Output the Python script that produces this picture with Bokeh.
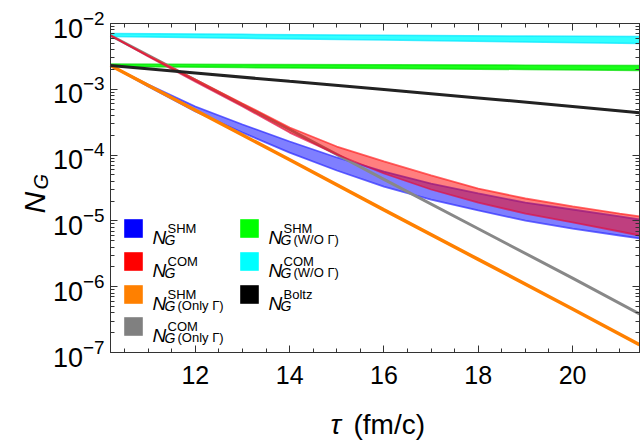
import math
from bokeh.plotting import figure
from bokeh.models import (LogAxis, LinearAxis, SingleIntervalTicker, LogTicker,
                          Label, BoxAnnotation, Range1d, CustomJSTickFormatter)
from bokeh.embed import file_html
from bokeh.resources import INLINE

# ---------------- data ----------------
tau_band = [10.2, 11.0, 12.0, 13.0, 14.0, 15.0, 16.0, 17.0, 18.0, 19.0, 20.0, 21.0, 21.42]
shm_hi = [2.30e-3, 1.18e-3, 5.48e-4, 2.92e-4, 1.61e-4, 9.20e-5, 5.63e-5, 3.70e-5, 2.61e-5, 1.90e-5, 1.49e-5, 1.17e-5, 1.05e-5]
shm_lo = [2.30e-3, 1.10e-3, 4.60e-4, 2.20e-4, 1.09e-4, 5.83e-5, 3.33e-5, 2.11e-5, 1.44e-5, 1.01e-5, 7.66e-6, 6.00e-6, 5.41e-6]
com_hi = [6.57e-3, 3.26e-3, 1.41e-3, 6.08e-4, 2.63e-4, 1.35e-4, 8.00e-5, 4.90e-5, 3.10e-5, 2.19e-5, 1.66e-5, 1.29e-5, 1.17e-5]
com_lo = [6.57e-3, 3.15e-3, 1.31e-3, 5.48e-4, 2.20e-4, 1.02e-4, 5.25e-5, 3.00e-5, 1.90e-5, 1.29e-5, 9.46e-6, 6.90e-6, 6.00e-6]

tau_flat = [10.2, 13.0, 16.0, 19.0, 21.42]
comwo_hi = [7.05e-3, 6.85e-3, 6.64e-3, 6.46e-3, 6.34e-3]
comwo_lo = [6.34e-3, 5.96e-3, 5.60e-3, 5.25e-3, 4.97e-3]
shmwo_hi = [2.42e-3, 2.39e-3, 2.37e-3, 2.33e-3, 2.30e-3]
shmwo_lo = [2.22e-3, 2.14e-3, 2.07e-3, 2.00e-3, 1.93e-3]

tau_line = [10.2, 12.0, 14.0, 16.0, 18.0, 20.0, 21.42]
boltz = [2.30e-3, 1.77e-3, 1.32e-3, 9.9e-4, 7.4e-4, 5.5e-4, 4.4e-4]
shm_only = [2.30e-3, 4.80e-4, 8.49e-5, 1.47e-5, 2.60e-6, 4.58e-7, 1.31e-7]
com_only = [6.57e-3, 1.38e-3, 2.45e-4, 4.27e-5, 7.60e-6, 1.35e-6, 3.87e-7]

leg_sup = ["SHM", "COM", "SHM", "COM", "SHM", "COM", "Boltz"]
leg_sub = ["", "", "(Only Γ)", "(Only Γ)", "(W/O Γ)", "(W/O Γ)", ""]
leg_colors = ["#0000FF", "#FF0000", "#FF8000", "#808080", "#00FF00", "#00FFFF", "#000000"]

x_lim = (10.2, 21.42)
y_lim = (1e-7, 1e-2)

# ---------------- layout ----------------
W, H = 640, 441
FL, FR, FT, FB = 110, 639, 23, 352   # plot box in canvas pixels
FONT = "Liberation Sans"
AX = "#333333"

sx = (FR - FL) / (x_lim[1] - x_lim[0])
ly1, ly0 = math.log10(y_lim[1]), math.log10(y_lim[0])
sy = (FB - FT) / (ly1 - ly0)
xr = (x_lim[0] - FL / sx, x_lim[0] + (W - FL) / sx)
yr = (10 ** (ly0 - (H - FB) / sy), 10 ** (ly1 + FT / sy))

def X(px):
    return x_lim[0] + (px - FL) / sx

def Y(py):
    return 10 ** (ly1 - (py - FT) / sy)

p = figure(width=W, height=H, x_range=Range1d(*xr), y_range=Range1d(*yr),
           y_axis_type="log", output_backend="svg", toolbar_location=None,
           min_border=0, title=None)
p.grid.visible = False
p.outline_line_color = None
p.background_fill_color = "white"
p.border_fill_color = "white"

def style_axis(ax, size):
    ax.axis_line_color = AX
    ax.major_tick_line_color = AX
    ax.minor_tick_line_color = AX
    ax.major_tick_in = 7
    ax.major_tick_out = 0
    ax.minor_tick_in = 4
    ax.minor_tick_out = 0
    ax.major_label_text_font = FONT
    ax.major_label_text_font_size = size
    ax.major_label_text_color = "black"

xa = p.xaxis[0]
xa.ticker = SingleIntervalTicker(interval=2, num_minor_ticks=4)
xa.fixed_location = y_lim[0]
xa.bounds = x_lim
style_axis(xa, "25px")
xa.major_label_standoff = 13

ya = p.yaxis[0]
ya.ticker = LogTicker(num_minor_ticks=10)
ya.fixed_location = x_lim[0]
ya.bounds = y_lim
style_axis(ya, "27px")
ya.major_label_standoff = 6

top = LinearAxis(ticker=SingleIntervalTicker(interval=2, num_minor_ticks=4),
                 formatter=CustomJSTickFormatter(code="return ''"),
                 fixed_location=y_lim[1], bounds=x_lim)
style_axis(top, "1px")
p.add_layout(top, "above")

right = LogAxis(ticker=LogTicker(num_minor_ticks=10),
                formatter=CustomJSTickFormatter(code="return ''"),
                fixed_location=x_lim[1], bounds=y_lim)
style_axis(right, "1px")
p.add_layout(right, "right")

# ---------------- curves ----------------
p.varea(x=tau_flat, y1=comwo_lo, y2=comwo_hi, fill_color="#00FFFF", fill_alpha=0.8)
p.line(tau_flat, comwo_hi, line_color="#00E5FF", line_width=1.5, line_alpha=0.7)
p.line(tau_flat, comwo_lo, line_color="#00E5FF", line_width=1.5, line_alpha=0.7)
p.varea(x=tau_flat, y1=shmwo_lo, y2=shmwo_hi, fill_color="#00FF00", fill_alpha=0.9)
p.line(tau_flat, shmwo_hi, line_color="#00DD00", line_width=1.5, line_alpha=0.7)
p.line(tau_flat, shmwo_lo, line_color="#00DD00", line_width=1.5, line_alpha=0.7)

p.varea(x=tau_band, y1=shm_lo, y2=shm_hi, fill_color="#0000FF", fill_alpha=0.5)
p.line(tau_band, shm_hi, line_color="#3333FF", line_width=1.8, line_alpha=0.75)
p.line(tau_band, shm_lo, line_color="#3333FF", line_width=1.8, line_alpha=0.75)

p.line(tau_line, shm_only, line_color="#FF8000", line_width=3.5)
p.line(tau_line, com_only, line_color="#888888", line_width=3)

p.varea(x=tau_band, y1=com_lo, y2=com_hi, fill_color="#FF0000", fill_alpha=0.5)
p.line(tau_band, com_hi, line_color="#FF2222", line_width=1.8, line_alpha=0.7)
p.line(tau_band, com_lo, line_color="#E01040", line_width=1.8, line_alpha=0.7)

p.line(tau_line, boltz, line_color="#222222", line_width=3)

# ---------------- legend (drawn by hand) ----------------
rows = [228, 261, 294, 326]
cols_sq = [124, 240]
cols_txt = [152, 268]
for i, (sup, sub, c) in enumerate(zip(leg_sup, leg_sub, leg_colors)):
    col, row = (0, i) if i < 4 else (1, i - 4)
    cy = rows[row]
    sq = cols_sq[col]
    p.add_layout(BoxAnnotation(left=X(sq), right=X(sq + 18), top=Y(cy - 9), bottom=Y(cy + 9),
                               fill_color=c, fill_alpha=1.0, line_color=c, line_alpha=0.6,
                               line_width=1))
    L = cols_txt[col]
    p.add_layout(Label(x=X(L), y=Y(cy + 9), text="N", text_font=FONT, text_font_style="italic",
                       text_font_size="19px", text_baseline="alphabetic", text_color="black"))
    p.add_layout(Label(x=X(L + 15), y=Y(cy), text=sup, text_font=FONT,
                       text_font_size="13px", text_baseline="alphabetic", text_color="black"))
    p.add_layout(Label(x=X(L + 12), y=Y(cy + 11), text="G", text_font=FONT, text_font_style="italic",
                       text_font_size="14px", text_baseline="alphabetic", text_color="black"))
    if sub:
        p.add_layout(Label(x=X(L + 25), y=Y(cy + 11), text=sub, text_font=FONT,
                           text_font_size="13px", text_baseline="alphabetic", text_color="black"))

# ---------------- axis titles ----------------
p.add_layout(Label(x=X(330), y=Y(424), text="τ", text_font=FONT, text_font_style="italic",
                   text_font_size="28px", text_baseline="alphabetic", text_color="black"))
p.add_layout(Label(x=X(353), y=Y(424), text="(fm/c)", text_font=FONT,
                   text_font_size="28px", text_baseline="alphabetic", text_color="black"))
p.add_layout(Label(x=X(34), y=Y(213), text="N", text_font=FONT, text_font_style="italic",
                   text_font_size="30px", text_baseline="alphabetic", angle=math.pi / 2,
                   text_color="black"))
p.add_layout(Label(x=X(40), y=Y(189), text="G", text_font=FONT, text_font_style="italic",
                   text_font_size="20px", text_baseline="alphabetic", angle=math.pi / 2,
                   text_color="black"))

open("out.html", "w").write(file_html(p, INLINE))
